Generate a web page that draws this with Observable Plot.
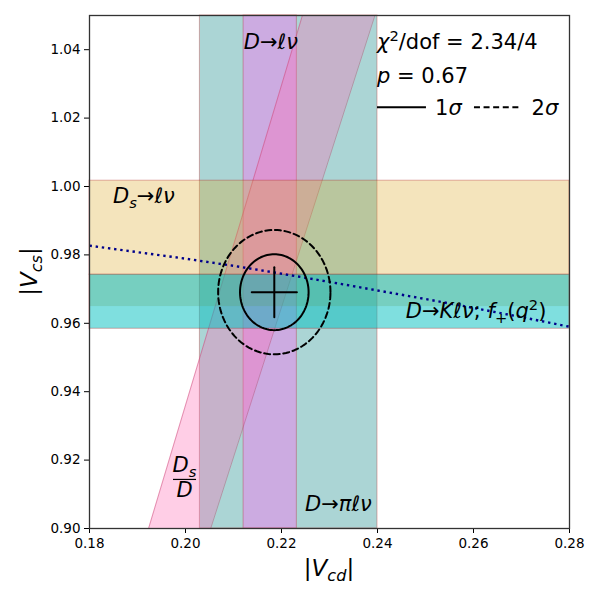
<!DOCTYPE html>
<html><head><meta charset="utf-8">
<script src="https://cdn.jsdelivr.net/npm/d3@7"></script>
<script src="https://cdn.jsdelivr.net/npm/@observablehq/plot@0.6"></script>
<style>body{margin:0;background:#fff} svg{font-family:"DejaVu Sans",sans-serif}
svg g[aria-label$="tick label"]{font-size:13.5px !important}
svg g[aria-label$="tick label"] text{font-size:13.5px !important}</style>
</head><body><div id="chart"></div>
<script>
// ---- data ----
const xDomain = [0.18, 0.28];
const yDomain = [0.90, 1.05];
const xTicks = [0.18, 0.20, 0.22, 0.24, 0.26, 0.28];
const yTicks = [0.90, 0.92, 0.94, 0.96, 0.98, 1.00, 1.02, 1.04];
// |Vcd| bands
const dPiBand = [{x1: 0.2030, x2: 0.2400}];   // D -> pi l nu
const dLnuBand = [{x1: 0.2121, x2: 0.2232}];  // D -> l nu
// |Vcs| bands
const dsLnuBand = [{y1: 0.9742, y2: 1.0017}];  // Ds -> l nu
const dKBand = [{y1: 0.9584, y2: 0.9742}];     // D -> K l nu
const dKBand2 = [{y1: 0.9649, y2: 0.9742}];
// Ds/D ratio band : |Vcs|/|Vcd|
const ratioLow = 4.385, ratioHigh = 4.680;
// unitarity (dotted) curve
const uniX = [0.18, 0.19, 0.20, 0.21, 0.22, 0.23, 0.24, 0.25, 0.26, 0.27, 0.28];
const uniY = [0.9827, 0.9808, 0.9789, 0.9768, 0.9745, 0.9721, 0.9696, 0.9671, 0.9645, 0.9618, 0.9590];
// fit result
const fitX = 0.2185, fitY = 0.9691, sigX = 0.0047, sigY = 0.0073;
const contourScale = [1.52, 2.49]; // 1 sigma, 2 sigma (2 dof)
const chi2 = 2.34, dof = 4, pval = 0.67;

// ---- derived tables ----
const ratioRows = yDomain.map(y => ({y, x1: y / ratioHigh, x2: y / ratioLow}));
const uniRows = uniX.map((x, i) => ({x, y: uniY[i]}));
const ellipse = k => d3.range(0, 121).map(i => {
  const t = i / 120 * 2 * Math.PI;
  return {x: fitX + k * sigX * Math.cos(t), y: fitY + k * sigY * Math.sin(t)};
});
const crossH = [{x: fitX - sigX, y: fitY}, {x: fitX + sigX, y: fitY}];
const crossV = [{x: fitX, y: fitY - sigY}, {x: fitX, y: fitY + sigY}];
const edge = "firebrick";

const full = {y1: yDomain[0], y2: yDomain[1]};
const fullX = {x1: xDomain[0], x2: xDomain[1]};

const chart = Plot.plot({
  width: 600, height: 600,
  marginLeft: 89, marginRight: 31, marginTop: 15, marginBottom: 72,
  style: {fontFamily: "DejaVu Sans, sans-serif", fontSize: "13px", color: "black", background: "white"},
  x: {domain: xDomain},
  y: {domain: yDomain},
  marks: [
    Plot.rect(dPiBand, {x1: "x1", x2: "x2", ...full, fill: "teal", fillOpacity: 0.33, stroke: edge, strokeOpacity: 0.35}),
    Plot.rect(dLnuBand, {x1: "x1", x2: "x2", ...full, fill: "violet", fillOpacity: 0.5, stroke: edge, strokeOpacity: 0.35}),
    Plot.areaX(ratioRows, {y: "y", x1: "x1", x2: "x2", fill: "hotpink", fillOpacity: 0.33, clip: true}),
    Plot.line(ratioRows, {x: "x1", y: "y", stroke: "#c0406a", strokeOpacity: 0.45, strokeWidth: 1, clip: true}),
    Plot.line(ratioRows, {x: "x2", y: "y", stroke: "#c0406a", strokeOpacity: 0.45, strokeWidth: 1, clip: true}),
    Plot.rect(dsLnuBand, {...fullX, y1: "y1", y2: "y2", fill: "goldenrod", fillOpacity: 0.3, stroke: edge, strokeOpacity: 0.35}),
    Plot.rect(dKBand, {...fullX, y1: "y1", y2: "y2", fill: "#00bfbf", fillOpacity: 0.5, stroke: edge, strokeOpacity: 0.35}),
    Plot.rect(dKBand2, {...fullX, y1: "y1", y2: "y2", fill: "#5aa064", fillOpacity: 0.25}),
    Plot.line(uniRows, {x: "x", y: "y", stroke: "#00008b", strokeWidth: 2.4, strokeDasharray: "2.4,3.8", strokeLinecap: "butt"}),
    Plot.line(ellipse(contourScale[0]), {x: "x", y: "y", stroke: "black", strokeWidth: 2}),
    Plot.line(ellipse(contourScale[1]), {x: "x", y: "y", stroke: "black", strokeWidth: 2, strokeDasharray: "6,3.6"}),
    Plot.line(crossH, {x: "x", y: "y", stroke: "black", strokeWidth: 2}),
    Plot.line(crossV, {x: "x", y: "y", stroke: "black", strokeWidth: 2}),
    Plot.axisX({ticks: xTicks, tickFormat: d3.format(".2f"), label: null, tickSize: 5, tickPadding: 5, fontSize: 13.5}),
    Plot.axisY({ticks: yTicks, tickFormat: d3.format(".2f"), label: null, tickSize: 5, tickPadding: 4, fontSize: 13.5}),
    Plot.frame({stroke: "#333", strokeWidth: 1.3})
  ]
});
document.getElementById("chart").appendChild(chart);

// ---- rich text annotations ----
const sx = chart.scale("x"), sy = chart.scale("y");
const X = v => sx.apply(v), Y = v => sy.apply(v);
const g = d3.select(chart).append("g").attr("font-family", "DejaVu Sans, sans-serif").attr("fill", "black");

function rich(x, y, segs, {size = 21, anchor = "start", rotate = 0} = {}) {
  const t = g.append("text")
    .attr("transform", `translate(${x},${y}) rotate(${rotate})`)
    .attr("font-size", size).attr("text-anchor", anchor);
  let shift = 0;
  for (const s of segs) {
    const target = s.sub ? size * 0.22 : s.sup ? -size * 0.38 : 0;
    t.append("tspan").text(s.t)
      .attr("dy", target - shift)
      .attr("font-style", s.i ? "italic" : "normal")
      .attr("font-size", (s.sub || s.sup) ? size * 0.7 : size);
    shift = target;
  }
  return t;
}

rich(X(0.2179), Y(1.0400), [{t: "D", i: 1}, {t: "→"}, {t: "ℓν", i: 1}], {anchor: "middle"});
rich(X(0.2400), Y(1.0400), [{t: "χ", i: 1}, {t: "2", sup: 1}, {t: "/dof = " + chi2.toFixed(2) + "/" + dof}]);
rich(X(0.2400), Y(1.0302), [{t: "p", i: 1}, {t: " = " + pval.toFixed(2)}]);
// legend
const ly = Y(1.0230);
g.append("line").attr("x1", X(0.2400)).attr("x2", X(0.2502)).attr("y1", ly).attr("y2", ly).attr("stroke", "black").attr("stroke-width", 2);
rich(X(0.2521), ly + 8, [{t: "1"}, {t: "σ", i: 1}]);
g.append("line").attr("x1", X(0.2602)).attr("x2", X(0.2702)).attr("y1", ly).attr("y2", ly).attr("stroke", "black").attr("stroke-width", 2).attr("stroke-dasharray", "6,3.6");
rich(X(0.2722), ly + 8, [{t: "2"}, {t: "σ", i: 1}]);

rich(X(0.1850), Y(0.9950), [{t: "D", i: 1}, {t: "s", i: 1, sub: 1}, {t: "→"}, {t: "ℓν", i: 1}]);
rich(X(0.2460), Y(0.9614), [{t: "D", i: 1}, {t: "→"}, {t: "Kℓν", i: 1}, {t: "; "}, {t: "f", i: 1}, {t: "+", sub: 1}, {t: "("}, {t: "q", i: 1}, {t: "2", sup: 1}, {t: ")"}]);
rich(X(0.2250), Y(0.9049), [{t: "D", i: 1}, {t: "→"}, {t: "πℓν", i: 1}]);
// fraction Ds / D
rich(X(0.1999), Y(0.9163), [{t: "D", i: 1}, {t: "s", i: 1, sub: 1}], {anchor: "middle"});
g.append("line").attr("x1", X(0.1975)).attr("x2", X(0.2023)).attr("y1", Y(0.9142)).attr("y2", Y(0.9142)).attr("stroke", "black").attr("stroke-width", 1.2);
rich(X(0.1999), Y(0.9090), [{t: "D", i: 1}], {anchor: "middle"});

// axis labels
const cx = (X(xDomain[0]) + X(xDomain[1])) / 2, cy = (Y(yDomain[0]) + Y(yDomain[1])) / 2;
rich(cx, 576, [{t: "|"}, {t: "V", i: 1}, {t: "cd", i: 1, sub: 1}, {t: "|"}], {size: 23, anchor: "middle"});
rich(37, cy, [{t: "|"}, {t: "V", i: 1}, {t: "cs", i: 1, sub: 1}, {t: "|"}], {size: 23, anchor: "middle", rotate: -90});
</script>
</body></html>
